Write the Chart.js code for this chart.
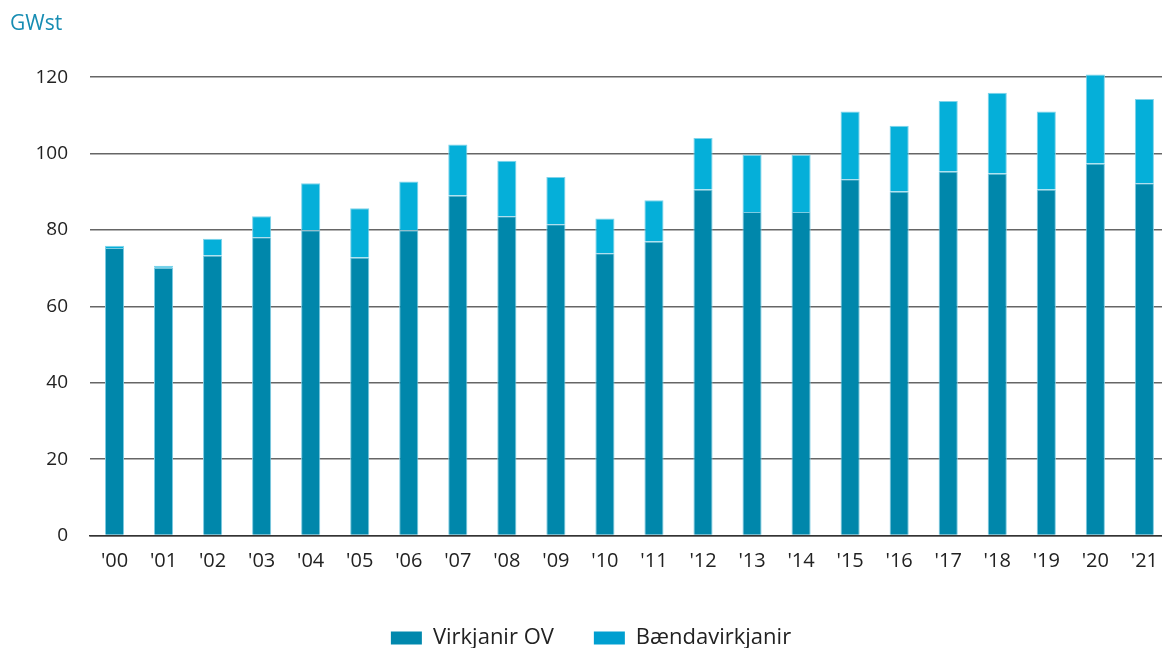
<!DOCTYPE html>
<html>
<head>
<meta charset="utf-8">
<script src="https://cdn.jsdelivr.net/npm/chart.js@4.4.1/dist/chart.umd.min.js"></script>
<style>
    html, body { margin: 0; padding: 0; background: #fff; overflow: hidden; }
    #wrap { width: 1172px; height: 659px; position: relative; }
</style>
</head>
<body>
<div id="wrap"><canvas id="chart"></canvas></div>
<script>
// Years on the x axis
const years = ["'00", "'01", "'02", "'03", "'04", "'05", "'06", "'07", "'08", "'09", "'10",
               "'11", "'12", "'13", "'14", "'15", "'16", "'17", "'18", "'19", "'20", "'21"];

// GWst per year
const virkjanirOV = [75.3, 70.1, 73.3, 78.1, 79.9, 72.8, 79.9, 89.0, 83.6, 81.5, 73.9,
                     77.0, 90.6, 84.7, 84.7, 93.3, 90.1, 95.3, 94.8, 90.6, 97.4, 92.2];
const baendavirkjanir = [0.6, 0.5, 4.4, 5.5, 12.3, 12.9, 12.8, 13.4, 14.5, 12.4, 9.1,
                         10.8, 13.5, 15.0, 15.0, 17.7, 17.2, 18.5, 21.1, 20.4, 23.3, 22.1];

const seriesNames = ['Virkjanir OV', 'Bændavirkjanir'];
const unitLabel = 'GWst';

const FONT = "'Open Sans', 'Noto Sans', sans-serif";
// legend swatches are a touch darker than the bars in the original
const legendColors = ['#0088ad', '#009fd0'];

const ctx = document.getElementById('chart').getContext('2d');
new Chart(ctx, {
    type: 'bar',
    data: {
        labels: years,
        datasets: [
            {
                label: seriesNames[0],
                data: virkjanirOV,
                backgroundColor: '#0087ab',
                borderColor: '#7ccbe2',
                borderWidth: { left: 1, right: 1, top: 1, bottom: 0 },
                borderSkipped: false,
                clip: false
            },
            {
                label: seriesNames[1],
                data: baendavirkjanir,
                backgroundColor: '#05afd9',
                borderColor: '#7fd3ea',
                borderWidth: { left: 1, right: 1, top: 1, bottom: 0 },
                borderSkipped: false,
                clip: false
            }
        ]
    },
    options: {
        responsive: true,
        maintainAspectRatio: false,
        animation: false,
        layout: { padding: { left: 10, right: 0, top: 0, bottom: 0 } },
        datasets: {
            bar: { barPercentage: 0.39, categoryPercentage: 1.0 }
        },
        plugins: {
            title: {
                display: true,
                text: unitLabel,
                align: 'start',
                color: '#178db3',
                font: { family: FONT, size: 21, weight: 'normal' },
                padding: { top: 11, bottom: 41 }
            },
            legend: {
                position: 'bottom',
                labels: {
                    color: '#222',
                    font: { family: FONT, size: 22 },
                    boxWidth: 31,
                    boxHeight: 13,
                    padding: 40,
                    generateLabels: (chart) => {
                        const items = Chart.defaults.plugins.legend.labels.generateLabels(chart);
                        items.forEach((item, i) => {
                            item.fillStyle = legendColors[i];
                            item.lineWidth = 0;
                        });
                        return items;
                    }
                }
            },
            tooltip: { enabled: false }
        },
        scales: {
            x: {
                stacked: true,
                grid: { display: false, drawTicks: false },
                border: { display: true, color: '#333', width: 1.5 },
                ticks: {
                    color: '#222',
                    font: { family: FONT, size: 20 },
                    padding: 14,
                    maxRotation: 0,
                    autoSkip: false
                },
                afterFit: (scale) => { scale.height = 51.5; }
            },
            y: {
                stacked: true,
                min: 0,
                max: 120,
                grid: { color: '#666', lineWidth: 1.5, drawTicks: false },
                border: { display: false },
                ticks: {
                    stepSize: 20,
                    color: '#222',
                    font: { family: FONT, size: 19 },
                    padding: 22
                },
                afterFit: (scale) => { scale.width = 80; }
            }
        }
    }
});
</script>
</body>
</html>
